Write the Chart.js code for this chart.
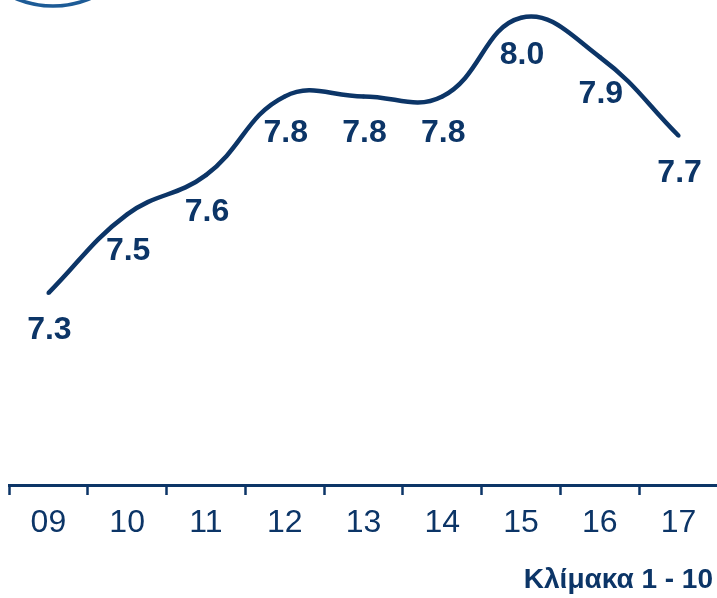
<!DOCTYPE html>
<html>
<head>
<meta charset="utf-8">
<script src="https://cdn.jsdelivr.net/npm/chart.js@4/dist/chart.umd.min.js"></script>
<style>
  html, body { margin: 0; padding: 0; background: #fff; overflow: hidden; }
  #wrap { width: 722px; height: 598px; }
</style>
</head>
<body>
<div id="wrap"><canvas id="chart" width="722" height="598"></canvas></div>
<script>
var years = ['09', '10', '11', '12', '13', '14', '15', '16', '17'];
var scores = [7.3, 7.5, 7.6, 7.8, 7.8, 7.8, 8.0, 7.9, 7.7];
var scaleNote = 'Κλίμακα 1 - 10';

var navy = '#0c3567';
var fontFam = '"Liberation Sans", Arial, sans-serif';

// labels under every point
var valueLabels = {
  id: 'valueLabels',
  afterDatasetsDraw: function(chart){
    var ctx = chart.ctx;
    var meta = chart.getDatasetMeta(0);
    ctx.save();
    ctx.fillStyle = navy;
    ctx.font = 'bold 32px ' + fontFam;
    ctx.textAlign = 'center';
    ctx.textBaseline = 'middle';
    meta.data.forEach(function(pt, i){
      ctx.fillText(scores[i].toFixed(1), pt.x + 1, pt.y + 37);
    });
    ctx.restore();
  }
};

// scale note bottom right + bit of the logo ring at top left
var extras = {
  id: 'extras',
  afterDraw: function(chart){
    var ctx = chart.ctx;
    ctx.save();
    ctx.fillStyle = navy;
    ctx.font = 'bold 28px ' + fontFam;
    ctx.textAlign = 'right';
    ctx.textBaseline = 'middle';
    ctx.fillText(scaleNote, 713, 580);

    ctx.strokeStyle = '#1d5b96';
    ctx.lineWidth = 3.5;
    ctx.beginPath();
    ctx.arc(53, -90, 96, 0, Math.PI);
    ctx.stroke();
    ctx.restore();
  }
};

function drawChart(id){
  var ctx = document.getElementById(id).getContext('2d');
  var chart = new Chart(ctx, {
    type: 'line',
    data: {
      labels: years,
      datasets: [{
        data: scores,
        borderColor: navy,
        backgroundColor: navy,
        borderWidth: 4.5,
        tension: 0.42,
        pointRadius: 2,
        pointBorderWidth: 0,
        fill: false,
        clip: false
      }]
    },
    options: {
      responsive: false,
      animation: false,
      layout: { padding: { top: 0, left: 9, right: 0, bottom: 46.6 } },
      plugins: {
        legend: { display: false },
        tooltip: { enabled: false },
        title: { display: false }
      },
      scales: {
        x: {
          offset: true,
          border: { display: true, color: navy, width: 3 },
          grid: {
            display: true,
            offset: true,
            drawOnChartArea: false,
            drawTicks: true,
            tickLength: 10,
            tickWidth: 2.5,
            tickColor: navy
          },
          ticks: {
            color: navy,
            padding: 9,
            maxRotation: 0,
            font: { family: fontFam, size: 32 }
          }
        },
        y: {
          display: false,
          min: 6.812,
          max: 8.035
        }
      }
    },
    plugins: [valueLabels, extras]
  });
  return chart;
}

drawChart('chart');
</script>
</body>
</html>
